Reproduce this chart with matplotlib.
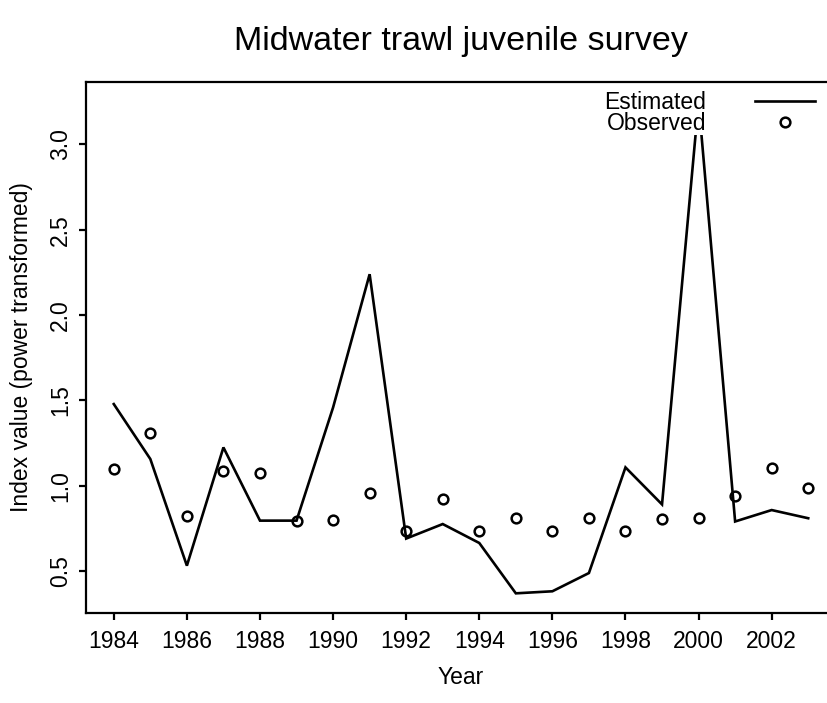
import matplotlib
matplotlib.use("Agg")
import matplotlib.pyplot as plt
import numpy as np

plt.rcParams['font.family'] = ['Liberation Sans', 'DejaVu Sans']

years = list(range(1984, 2004))
estimated = [1.478, 1.156, 0.531, 1.224, 0.795, 0.795, 1.458, 2.239, 0.690, 0.775,
             0.664, 0.369, 0.381, 0.488, 1.107, 0.890, 3.250, 0.790, 0.857, 0.809]
observed = [1.097, 1.306, 0.824, 1.084, 1.072, 0.795, 0.800, 0.957, 0.736, 0.922,
            0.734, 0.808, 0.734, 0.812, 0.734, 0.805, 0.812, 0.940, 1.101, 0.984]
xticks = list(range(1984, 2003, 2))
yticks = [0.5, 1.0, 1.5, 2.0, 2.5, 3.0]
title = "Midwater trawl juvenile survey"
xlabel = "Year"
ylabel = "Index value (power transformed)"

W, H = 828, 703
fig = plt.figure(figsize=(W / 100, H / 100), dpi=100)
L, R, T, B = 86, 836, 82, 613
ax = fig.add_axes([L / W, 1 - B / H, (R - L) / W, (B - T) / H])

F = 16.5
ax.plot(years, estimated, color='black', lw=1.9, label='Estimated', solid_joinstyle='miter')
ax.plot(years, observed, linestyle='none', marker='o', markersize=7,
        markerfacecolor='none', markeredgecolor='black', markeredgewidth=1.8,
        label='Observed')

# R-style 4% axis extension
xs = np.array(years, dtype=float)
ally = np.array(estimated + observed)
xpad = 0.04 * (xs.max() - xs.min())
ypad = 0.04 * (ally.max() - ally.min())
ax.set_xlim(xs.min() - xpad, xs.max() + xpad)
ax.set_ylim(ally.min() - ypad, ally.max() + ypad)

ax.set_xticks(xticks)
ax.set_xticklabels([str(v) for v in xticks])
ax.set_yticks(yticks)
ax.set_yticklabels([f"{v:.1f}" for v in yticks])
ax.tick_params(axis='both', direction='out', length=5, width=1.6, labelsize=F, color='black')
ax.tick_params(axis='x', pad=7)
ax.tick_params(axis='y', pad=5, labelrotation=90)
for lab in ax.get_yticklabels():
    lab.set_verticalalignment('center')

for s in ax.spines.values():
    s.set_linewidth(1.6)
    s.set_color('black')

ax.set_title(title, fontsize=24.5, pad=23)
ax.set_xlabel(xlabel, fontsize=F)
ax.set_ylabel(ylabel, fontsize=F)
ax.xaxis.set_label_coords(0.5, -(666 - B) / (B - T))
ax.yaxis.set_label_coords(-(L - 33) / (R - L), 0.5)

leg = ax.legend(loc='upper right', bbox_to_anchor=(815 / W, 1 - 91 / H),
                bbox_transform=fig.transFigure, markerfirst=False, frameon=True,
                fontsize=F, handlelength=60 / 22.9, handletextpad=49 / 22.9,
                borderpad=0, borderaxespad=0, labelspacing=-0.1, fancybox=False)
leg.get_frame().set_facecolor('white')
leg.get_frame().set_edgecolor('none')
leg.get_frame().set_alpha(1)

fig.savefig("out.png", dpi=100)
